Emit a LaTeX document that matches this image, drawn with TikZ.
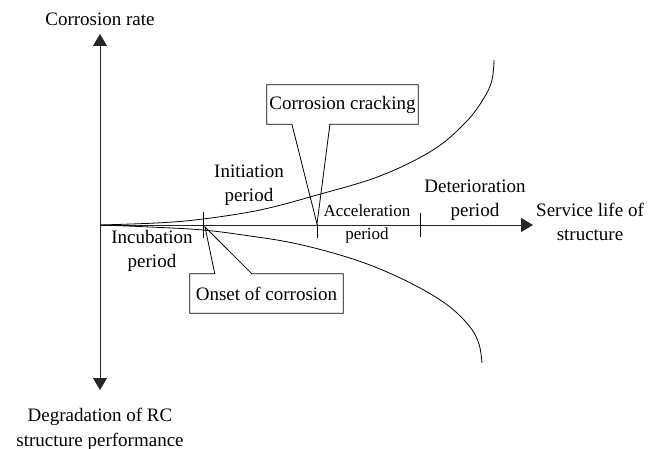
\documentclass[tikz,border=0pt]{standalone}
\usepackage{fontspec}
\setmainfont{Liberation Serif}
\usetikzlibrary{arrows.meta,calc}
\begin{document}
\begin{tikzpicture}[x=1pt,y=-1pt,
  lbl/.style={font=\fontsize{19}{24.5}\selectfont,align=center,anchor=base,inner sep=0pt},
  smalllbl/.style={font=\fontsize{17}{23}\selectfont,align=center,anchor=base,inner sep=0pt},
  axis/.style={line width=0.9pt,draw=black!85,-{Triangle[length=12pt,width=14pt]}},
  curve/.style={line width=0.8pt},
  tick/.style={line width=0.8pt},
  boxtext/.style={font=\fontsize{19}{24.5}\selectfont,inner sep=0pt,minimum height=39pt},
  callout/.style={line width=0.8pt}]
\useasboundingbox (0,0) rectangle (662,449);
% axes
\coordinate (O) at (100,225);
\coordinate (ytop) at (100,34);
\coordinate (ybot) at (100,390);
\coordinate (xend) at (533,225);
\draw[axis] (O) -- (ytop);
\draw[axis] (O) -- (ybot);
\draw[axis] (O) -- (xend);
% ticks
\coordinate (t1a) at (203,212); \coordinate (t1b) at (203,238);
\coordinate (t2a) at (317,224); \coordinate (t2b) at (317,238);
\coordinate (t3a) at (420,213); \coordinate (t3b) at (420,237);
\draw[tick] (t1a) -- (t1b);
\draw[tick] (t2a) -- (t2b);
\draw[tick] (t3a) -- (t3b);
% curves
\draw[curve] plot[smooth,tension=0.6] coordinates {(100,225) (160,222.8) (203,219) (260,210) (317,195) (380,176) (433,150) (466,122) (484,98) (492,80) (494,60)};
\draw[curve] plot[smooth,tension=0.6] coordinates {(100,225) (150,227) (203,230) (250,236) (293,243) (340,255) (380,269) (420,288) (450,307) (470,327) (479,344) (482,363)};
% labels (anchor base = baseline of the last line)
\node[lbl] (yl) at (100,26) {Corrosion rate};
\node[lbl] (yl2) at (100,446) {Degradation of RC\\structure performance};
\node[lbl] (init) at (249,202) {Initiation\\period};
\node[lbl] (incu) at (152,268) {Incubation\\period};
\node[smalllbl] (acc) at (367,240) {Acceleration\\period};
\node[lbl] (det) at (475,217) {Deterioration\\period};
\node[lbl] (xl) at (590,241) {Service life of\\structure};
% callout: corrosion cracking
\coordinate (crtip) at (317,224);
\node[boxtext,minimum width=151pt] (crack) at (342.5,104.5) {Corrosion cracking};
\draw[callout] (crack.north west) -- (crack.north east) -- (crack.south east)
  -- ($(crack.south west)!0.417!(crack.south east)$) -- (crtip)
  -- ($(crack.south west)!0.166!(crack.south east)$) -- (crack.south west) -- cycle;
% callout: onset of corrosion
\coordinate (ontip) at (205,227);
\node[boxtext,minimum width=153pt] (onset) at (266.5,293.5) {Onset of corrosion};
\draw[callout] (onset.south west) -- (onset.south east) -- (onset.north east)
  -- ($(onset.north west)!0.405!(onset.north east)$) -- (ontip)
  -- ($(onset.north west)!0.163!(onset.north east)$) -- (onset.north west) -- cycle;
\end{tikzpicture}
\end{document}
